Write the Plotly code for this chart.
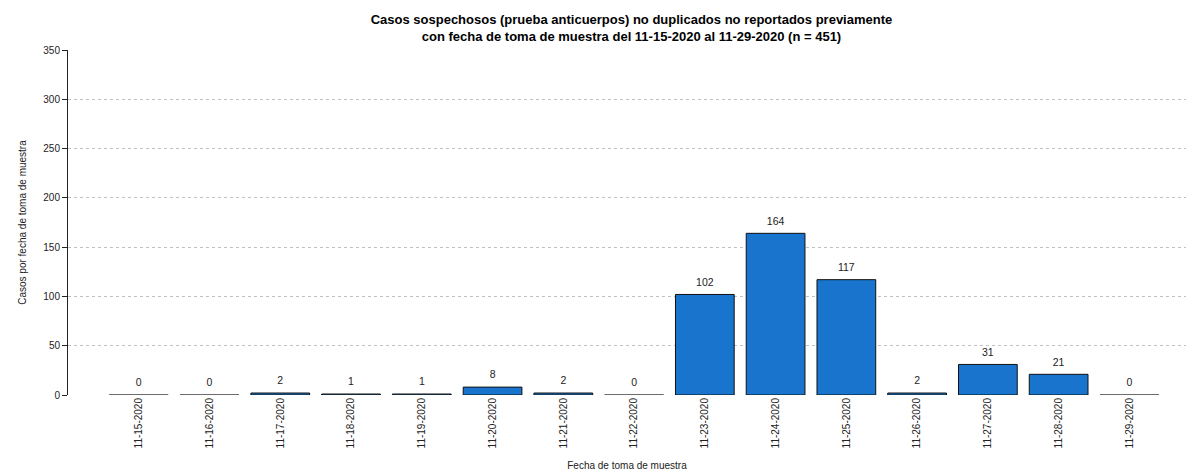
import plotly.graph_objects as go

categories = ["11-15-2020", "11-16-2020", "11-17-2020", "11-18-2020", "11-19-2020",
              "11-20-2020", "11-21-2020", "11-22-2020", "11-23-2020", "11-24-2020",
              "11-25-2020", "11-26-2020", "11-27-2020", "11-28-2020", "11-29-2020"]
values = [0, 0, 2, 1, 1, 8, 2, 0, 102, 164, 117, 2, 31, 21, 0]
y_ticks = [0, 50, 100, 150, 200, 250, 300, 350]

xs = list(range(len(categories)))
bar_w = 0.83
FONT = "Liberation Sans, Arial, sans-serif"

fig = go.Figure()
fig.add_trace(go.Bar(
    x=xs, y=values, width=bar_w,
    marker=dict(color="#1874CD", line=dict(color="#111111", width=1)),
    hoverinfo="x+y", showlegend=False,
))

# outline for zero-height bars (as drawn by the original)
zx, zy = [], []
for x, v in zip(xs, values):
    if v == 0:
        zx += [x - bar_w / 2, x + bar_w / 2, None]
        zy += [v, v, None]
fig.add_trace(go.Scatter(x=zx, y=zy, mode="lines",
                         line=dict(color="#777777", width=1.5),
                         hoverinfo="skip", showlegend=False))

fig.add_trace(go.Scatter(
    x=xs, y=values, mode="markers+text", text=[str(v) for v in values],
    marker=dict(size=8, color="rgba(0,0,0,0)"),
    textposition="top center", textfont=dict(size=10.5, color="#222222", family=FONT),
    hoverinfo="skip", showlegend=False,
))

fig.update_layout(
    width=1186, height=475,
    margin=dict(l=68, r=0, t=50, b=80),
    paper_bgcolor="white", plot_bgcolor="white",
    font=dict(family=FONT, size=10, color="#222222"),
    title=dict(
        text="<b>Casos sospechosos (prueba anticuerpos) no duplicados no reportados previamente<br>con fecha de toma de muestra del 11-15-2020 al 11-29-2020 (n = 451)</b>",
        x=0.504, xanchor="center", xref="paper", yref="container", y=0.949, yanchor="top",
        font=dict(size=13, color="#000000", family=FONT),
    ),
    bargap=0.17,
)
fig.update_xaxes(
    range=[-1.0, 14.8], tickmode="array", tickvals=xs, ticktext=categories,
    tickangle=-90, showgrid=False, zeroline=False, showline=False, automargin=False,
    ticks="", tickfont=dict(size=10, color="#222222"),
    title=dict(text="Fecha de toma de muestra", font=dict(size=10, color="#222222"), standoff=14),
)
fig.update_yaxes(
    range=[0, 350], tickmode="array", tickvals=y_ticks, automargin=False,
    showgrid=True, gridcolor="#c0c0c0", griddash="dot", gridwidth=1,
    zeroline=False, showline=True, linecolor="#222222", linewidth=1,
    ticks="outside", ticklen=5, tickcolor="#222222",
    tickfont=dict(size=10, color="#222222"),
    title=dict(text="Casos por fecha de toma de muestra", font=dict(size=10, color="#222222"), standoff=14),
)

fig.write_html("out.html", config={"displayModeBar": False},
               post_script="document.body.style.margin='0';")
